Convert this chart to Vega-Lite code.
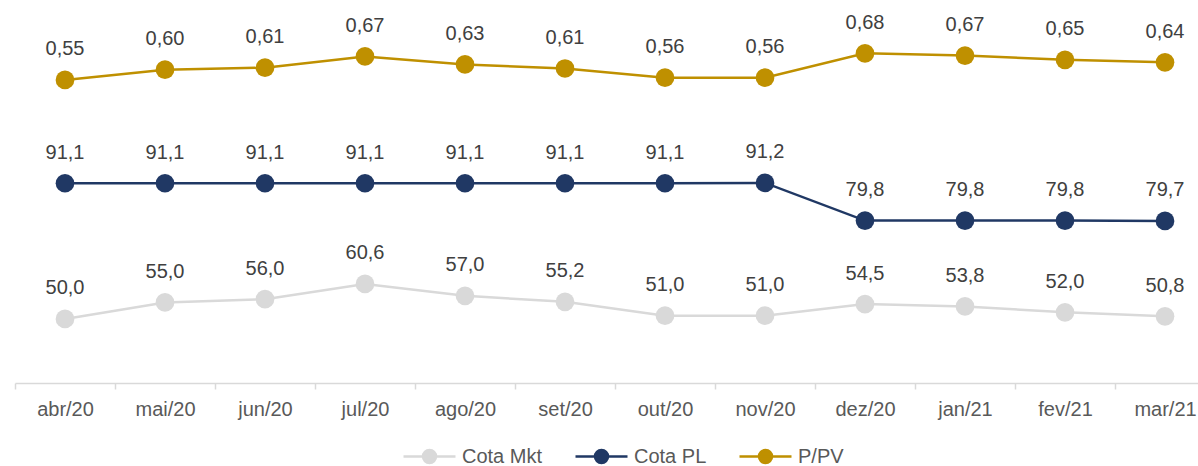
{
  "$schema": "https://vega.github.io/schema/vega-lite/v6.json",
  "width": 1183,
  "height": 383,
  "autosize": {"type": "none"},
  "padding": {"left": 15, "top": 0, "right": 0, "bottom": 83},
  "background": "white",
  "config": {
    "view": {"stroke": null},
    "font": "Liberation Sans",
    "locale": {"number": {"decimal": ",", "thousands": ".", "grouping": [3], "currency": ["R$ ", ""]}}
  },
  "data": {
    "values": [
      {"mes": "abr/20", "serie": "Cota Mkt", "valor": 50.0},
      {"mes": "mai/20", "serie": "Cota Mkt", "valor": 55.0},
      {"mes": "jun/20", "serie": "Cota Mkt", "valor": 56.0},
      {"mes": "jul/20", "serie": "Cota Mkt", "valor": 60.6},
      {"mes": "ago/20", "serie": "Cota Mkt", "valor": 57.0},
      {"mes": "set/20", "serie": "Cota Mkt", "valor": 55.2},
      {"mes": "out/20", "serie": "Cota Mkt", "valor": 51.0},
      {"mes": "nov/20", "serie": "Cota Mkt", "valor": 51.0},
      {"mes": "dez/20", "serie": "Cota Mkt", "valor": 54.5},
      {"mes": "jan/21", "serie": "Cota Mkt", "valor": 53.8},
      {"mes": "fev/21", "serie": "Cota Mkt", "valor": 52.0},
      {"mes": "mar/21", "serie": "Cota Mkt", "valor": 50.8},
      {"mes": "abr/20", "serie": "Cota PL", "valor": 91.1},
      {"mes": "mai/20", "serie": "Cota PL", "valor": 91.1},
      {"mes": "jun/20", "serie": "Cota PL", "valor": 91.1},
      {"mes": "jul/20", "serie": "Cota PL", "valor": 91.1},
      {"mes": "ago/20", "serie": "Cota PL", "valor": 91.1},
      {"mes": "set/20", "serie": "Cota PL", "valor": 91.1},
      {"mes": "out/20", "serie": "Cota PL", "valor": 91.1},
      {"mes": "nov/20", "serie": "Cota PL", "valor": 91.2},
      {"mes": "dez/20", "serie": "Cota PL", "valor": 79.8},
      {"mes": "jan/21", "serie": "Cota PL", "valor": 79.8},
      {"mes": "fev/21", "serie": "Cota PL", "valor": 79.8},
      {"mes": "mar/21", "serie": "Cota PL", "valor": 79.7},
      {"mes": "abr/20", "serie": "P/PV", "valor": 0.55},
      {"mes": "mai/20", "serie": "P/PV", "valor": 0.60},
      {"mes": "jun/20", "serie": "P/PV", "valor": 0.61},
      {"mes": "jul/20", "serie": "P/PV", "valor": 0.665},
      {"mes": "ago/20", "serie": "P/PV", "valor": 0.626},
      {"mes": "set/20", "serie": "P/PV", "valor": 0.606},
      {"mes": "out/20", "serie": "P/PV", "valor": 0.561},
      {"mes": "nov/20", "serie": "P/PV", "valor": 0.561},
      {"mes": "dez/20", "serie": "P/PV", "valor": 0.68},
      {"mes": "jan/21", "serie": "P/PV", "valor": 0.669},
      {"mes": "fev/21", "serie": "P/PV", "valor": 0.648},
      {"mes": "mar/21", "serie": "P/PV", "valor": 0.636}
    ]
  },
  "encoding": {
    "x": {
      "field": "mes",
      "type": "nominal",
      "sort": null,
      "bandPosition": 0.5,
      "scale": {"type": "band", "range": [0, 1200], "paddingInner": 0, "paddingOuter": 0},
      "axis": {
        "title": null,
        "labelAngle": 0,
        "grid": false,
        "domainColor": "#d9d9d9",
        "domainWidth": 1.5,
        "tickColor": "#d9d9d9",
        "tickWidth": 1.5,
        "tickSize": 6,
        "tickBand": "extent",
        "labelFontSize": 20,
        "labelColor": "#595959",
        "labelPadding": 10,
        "labelFont": "Liberation Sans"
      }
    },
    "color": {
      "field": "serie",
      "type": "nominal",
      "scale": {"domain": ["Cota Mkt", "Cota PL", "P/PV"], "range": ["#d9d9d9", "#203864", "#bf9000"]},
      "legend": {
        "title": null,
        "orient": "none",
        "direction": "horizontal",
        "legendX": 387,
        "legendY": 429,
        "symbolType": "M-1,0H1M0.25,0A0.25,0.25 0 1,1 -0.25,0A0.25,0.25 0 1,1 0.25,0Z",
        "symbolSize": 2704,
        "symbolStrokeWidth": 2.5,
        "labelFontSize": 20,
        "labelColor": "#595959",
        "labelFont": "Liberation Sans",
        "labelOffset": 5,
        "columnPadding": 27
      }
    }
  },
  "layer": [
    {
      "transform": [{"filter": "datum.serie !== 'P/PV'"}],
      "encoding": {
        "y": {"field": "valor", "type": "quantitative", "scale": {"domain": [30.6, 146.6], "zero": false, "nice": false}, "axis": null}
      },
      "layer": [
        {"mark": {"type": "line", "strokeWidth": 2.5}},
        {"mark": {"type": "point", "filled": true, "size": 350, "opacity": 1}},
        {
          "mark": {"type": "text", "fontSize": 20, "font": "Liberation Sans", "baseline": "alphabetic", "align": "center", "dy": -24.5},
          "encoding": {"text": {"field": "valor", "type": "quantitative", "format": ".1f"}, "color": {"value": "#404040"}}
        }
      ]
    },
    {
      "transform": [{"filter": "datum.serie === 'P/PV'"}],
      "encoding": {
        "y": {"field": "valor", "type": "quantitative", "scale": {"domain": [-0.928, 0.94], "zero": false, "nice": false}, "axis": null}
      },
      "layer": [
        {"mark": {"type": "line", "strokeWidth": 2.5}},
        {"mark": {"type": "point", "filled": true, "size": 350, "opacity": 1}},
        {
          "mark": {"type": "text", "fontSize": 20, "font": "Liberation Sans", "baseline": "alphabetic", "align": "center", "dy": -24.5},
          "encoding": {"text": {"field": "valor", "type": "quantitative", "format": ".2f"}, "color": {"value": "#404040"}}
        }
      ]
    }
  ],
  "resolve": {"scale": {"y": "independent"}}
}
